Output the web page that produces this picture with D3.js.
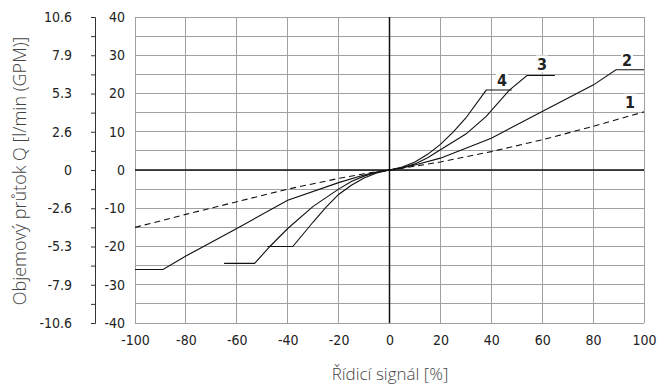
<!DOCTYPE html>
<html>
<head>
<meta charset="utf-8">
<script src="https://cdn.jsdelivr.net/npm/d3@7"></script>
<style>
  body { margin: 0; background: #fff; }
  .num { font-family: "Liberation Sans Narrow", "DejaVu Sans", sans-serif; font-stretch: condensed; }
  .title { font-family: "Open Sans", "Noto Sans", sans-serif; font-weight: 300; fill: #444; }
</style>
</head>
<body>
<div id="chart"></div>
<script>
// tick labels
const xTicks = [-100, -80, -60, -40, -20, 0, 20, 40, 60, 80, 100];
const qTicks = [40, 30, 20, 10, 0, -10, -20, -30, -40];
const gpmLabels = ["10.6", "7.9", "5.3", "2.6", "0", "-2.6", "-5.3", "-7.9", "-10.6"];

// curve 1 (dashed)
const c1x = [-100, -80, -60, -40, -20, -10, -5, 0, 5, 10, 20, 40, 60, 80, 100];
const c1y = [-15, -11.6, -8.3, -5.0, -2.2, -1.0, -0.45, 0, 0.45, 1.0, 2.1, 4.8, 7.9, 11.4, 15.2];
// curve 2
const c2x = [-100, -89, -80, -60, -40, -20, -10, -5, 0, 5, 10, 20, 40, 60, 80, 89, 100];
const c2y = [-26, -26, -22.5, -15.3, -7.9, -3.3, -1.3, -0.55, 0, 0.55, 1.3, 3.1, 8.3, 15.3, 22.2, 26.2, 26.2];
// curve 3
const c3x = [-65, -53, -47, -40, -30, -20, -15, -10, -5, 0, 5, 10, 15, 20, 30, 38, 47, 54, 65];
const c3y = [-24.4, -24.4, -20, -15.3, -9.5, -5.0, -3.0, -1.6, -0.6, 0, 0.6, 1.6, 3.2, 5.3, 9.4, 14.0, 20.8, 24.7, 24.7];
// curve 4
const c4x = [-48, -38, -30, -25, -20, -15, -10, -5, 0, 5, 10, 15, 20, 25, 30, 38, 48];
const c4y = [-20, -20, -13.6, -9.8, -6.4, -4.0, -2.1, -0.8, 0, 0.8, 2.1, 4.1, 6.7, 9.9, 13.6, 20.9, 20.9];

const curveNames = ["1", "2", "3", "4"];

const width = 660, height = 390;
const svg = d3.select("#chart").append("svg")
    .attr("width", width)
    .attr("height", height);

const x = d3.scaleLinear().domain([-100, 100]).range([135, 644]);
const y = d3.scaleLinear().domain([-40, 40]).range([323, 17]);

// grid
const grid = svg.append("g");
grid.selectAll(".hg")
    .data(d3.range(-40, 41, 5))
    .join("line")
    .attr("x1", x(-100)).attr("x2", x(100))
    .attr("y1", d => y(d)).attr("y2", d => y(d))
    .attr("stroke", "#a0a0a0").attr("stroke-width", 1)
    .attr("shape-rendering", "crispEdges");
grid.selectAll(".vg")
    .data(xTicks)
    .join("line")
    .attr("x1", d => x(d)).attr("x2", d => x(d))
    .attr("y1", y(40)).attr("y2", y(-40))
    .attr("stroke", "#a0a0a0").attr("stroke-width", 1)
    .attr("shape-rendering", "crispEdges");

// zero lines
svg.append("line")
    .attr("x1", x(-100)).attr("x2", x(100))
    .attr("y1", y(0)).attr("y2", y(0))
    .attr("stroke", "#111").attr("stroke-width", 1.5);
svg.append("line")
    .attr("x1", x(0)).attr("x2", x(0))
    .attr("y1", y(40)).attr("y2", y(-40))
    .attr("stroke", "#111").attr("stroke-width", 1.5);

const plain = d => String(d);

// inner axis (l/min)
const qAxis = svg.append("g")
    .attr("class", "num")
    .attr("transform", `translate(${x(-100)},0)`)
    .call(d3.axisLeft(y).tickValues(qTicks).tickSize(0).tickPadding(10).tickFormat(plain));
qAxis.select(".domain").remove();

// outer axis (GPM)
const gpmAxis = svg.append("g")
    .attr("class", "num")
    .attr("transform", "translate(95,0)")
    .call(d3.axisLeft(y)
        .tickValues(d3.range(-40, 41, 5))
        .tickSize(4)
        .tickPadding(19)
        .tickFormat(d => d % 10 === 0 ? gpmLabels[qTicks.indexOf(d)] : ""));
gpmAxis.select(".domain").attr("stroke", "#333");
gpmAxis.selectAll(".tick line").attr("stroke", "#333");

// x axis
const xAxis = svg.append("g")
    .attr("class", "num")
    .attr("transform", `translate(0,${y(-40)})`)
    .call(d3.axisBottom(x).tickValues(xTicks).tickSize(0).tickPadding(12).tickFormat(plain));
xAxis.select(".domain").remove();

svg.selectAll(".num text")
    .attr("font-size", 14)
    .attr("fill", "#222");

// curves
const line = d3.line()
    .x(d => x(d[0]))
    .y(d => y(d[1]));

const curves = [
    { xs: c1x, ys: c1y, dash: "6,4" },
    { xs: c2x, ys: c2y, dash: null },
    { xs: c3x, ys: c3y, dash: null },
    { xs: c4x, ys: c4y, dash: null }
];

curves.forEach(c => {
    svg.append("path")
        .datum(c.xs.map((v, i) => [v, c.ys[i]]))
        .attr("d", line)
        .attr("fill", "none")
        .attr("stroke", "#111")
        .attr("stroke-width", 1.1)
        .attr("stroke-dasharray", c.dash);
});

// curve labels
const labelPos = [[94.5, 17.6], [93.3, 28.6], [59.9, 27.6], [44.2, 23.4]];
labelPos.forEach((p, i) => {
    const g = svg.append("g")
        .attr("transform", `translate(${x(p[0])},${y(p[1])})`);
    g.append("rect")
        .attr("x", -6).attr("y", -9)
        .attr("width", 12).attr("height", 17)
        .attr("fill", "#fff");
    g.append("text")
        .attr("class", "num")
        .attr("text-anchor", "middle")
        .attr("dy", "0.36em")
        .attr("font-size", 16)
        .attr("font-weight", "bold")
        .attr("fill", "#222")
        .text(curveNames[i]);
});

// axis titles
svg.append("text")
    .attr("class", "title")
    .attr("transform", "translate(26,171) rotate(-90)")
    .attr("text-anchor", "middle")
    .attr("font-size", 18)
    .text("Objemový průtok Q [l/min (GPM)]");

svg.append("text")
    .attr("class", "title")
    .attr("x", 390)
    .attr("y", 380)
    .attr("text-anchor", "middle")
    .attr("font-size", 17)
    .text("Řídicí signál [%]");
</script>
</body>
</html>
